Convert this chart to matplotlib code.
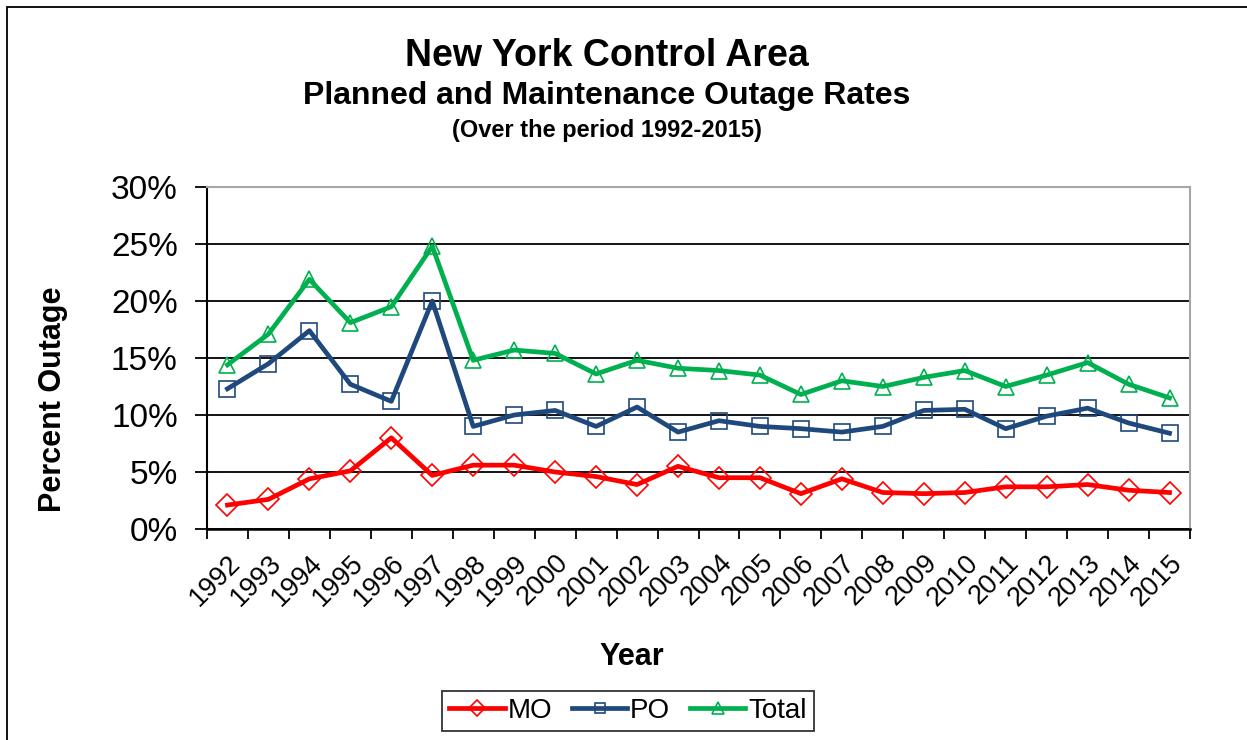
import matplotlib.pyplot as plt
from matplotlib.patches import Rectangle
from matplotlib.ticker import FixedLocator, FuncFormatter
from matplotlib.transforms import ScaledTranslation
import numpy as np

plt.rcParams['font.family'] = ['Liberation Sans', 'DejaVu Sans']

# data (percent)
years = [str(y) for y in range(1992, 2016)]
mo = [2.1, 2.6, 4.4, 5.1, 8.0, 4.7, 5.6, 5.6, 5.0, 4.6, 3.9, 5.5,
      4.5, 4.5, 3.1, 4.4, 3.2, 3.1, 3.2, 3.7, 3.7, 3.9, 3.4, 3.2]
po = [12.3, 14.5, 17.4, 12.7, 11.2, 20.0, 9.0, 10.0, 10.4, 9.0, 10.7, 8.5,
      9.5, 9.0, 8.8, 8.5, 9.0, 10.4, 10.5, 8.8, 9.9, 10.6, 9.3, 8.4]
total = [14.4, 17.1, 21.9, 18.1, 19.5, 24.8, 14.8, 15.7, 15.4, 13.6, 14.8, 14.1,
         13.9, 13.5, 11.8, 13.0, 12.5, 13.3, 13.9, 12.5, 13.5, 14.6, 12.7, 11.5]

fig = plt.figure(figsize=(12.47, 7.40), dpi=100)
ax = fig.add_axes([207 / 1247, 1 - 529 / 740, 983 / 1247, 342 / 740])

x = np.arange(len(years))
ax.plot(x, mo, color='#FF0000', lw=3.4, marker='D', ms=11, mfc='none',
        mec='#FF0000', mew=1.2, label='MO')
ax.plot(x, po, color='#1F497D', lw=3.4, marker='s', ms=11, mfc='none',
        mec='#1F497D', mew=1.2, label='PO')
ax.plot(x, total, color='#00B050', lw=3.4, marker='^', ms=12, mfc='none',
        mec='#00B050', mew=1.2, label='Total')

ax.set_xlim(-0.5, len(years) - 0.5)
ax.set_ylim(0, 30)
ax.yaxis.set_major_locator(FixedLocator(range(0, 31, 5)))
ax.yaxis.set_major_formatter(FuncFormatter(lambda v, p: '%d%%' % v))
ax.grid(axis='y', color='black', lw=1.3, zorder=0)
ax.set_axisbelow(True)

# x ticks at category boundaries, labels at category centres
ax.set_xticks(np.arange(-0.5, len(years)), minor=False)
ax.set_xticklabels([])
ax.set_xticks(x, minor=True)
ax.set_xticklabels(years, minor=True, rotation=45, ha='right', va='top',
                   rotation_mode='anchor', fontsize=19.5)
shift = ScaledTranslation(5 / 100, 0, fig.dpi_scale_trans)
for lab in ax.get_xticklabels(minor=True):
    lab.set_transform(lab.get_transform() + shift)
ax.tick_params(axis='x', which='minor', length=0, pad=15)
ax.tick_params(axis='x', which='major', length=7, width=1.3, direction='out')
ax.tick_params(axis='y', length=9, width=1.3, direction='out', labelsize=24, pad=12)

for s in ['top', 'right']:
    ax.spines[s].set_color('#A6A6A6')
    ax.spines[s].set_linewidth(1.5)
ax.spines['left'].set_linewidth(1.5)
ax.spines['bottom'].set_linewidth(1.8)

ax.set_ylabel('Percent Outage', fontsize=22, fontweight='bold', va='center')
ax.yaxis.set_label_coords((53 - 207) / 983, 0.5 + (529 - 399 - 171) / 342)
ax.set_xlabel('Year', fontsize=22, fontweight='bold', va='center')
ax.xaxis.set_label_coords((632 - 207) / 983, (529 - 657) / 342)

fig.text(607 / 1247, 1 - 56 / 740, 'New York Control Area', ha='center', va='center',
         fontsize=27, fontweight='bold')
fig.text(607 / 1247, 1 - 96 / 740, 'Planned and Maintenance Outage Rates', ha='center',
         va='center', fontsize=23, fontweight='bold')
fig.text(607 / 1247, 1 - 130 / 740, '(Over the period 1992-2015)', ha='center',
         va='center', fontsize=17, fontweight='bold')

leg = fig.legend(loc='center', bbox_to_anchor=(628 / 1247, 1 - 711 / 740), ncol=3,
                 fontsize=20, frameon=True, fancybox=False, edgecolor='black',
                 handlelength=2.0, handletextpad=0.1, columnspacing=0.7,
                 borderpad=0.25, markerscale=0.7)
leg.get_frame().set_linewidth(1.3)

fig.patches.append(Rectangle((7 / 1247, -0.1), 1.2, 1 - 7 / 740 + 0.1,
                             transform=fig.transFigure, fill=False,
                             edgecolor='black', lw=1.3))

fig.savefig('out.png', dpi=100)
